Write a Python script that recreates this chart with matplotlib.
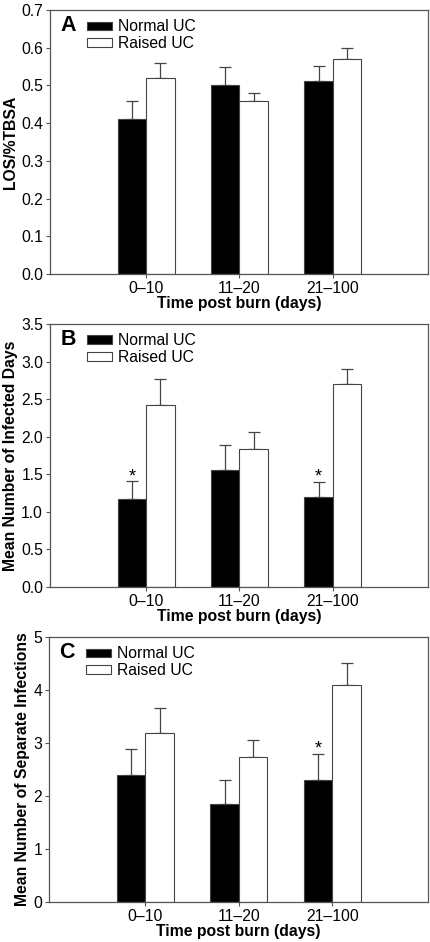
import numpy as np
import matplotlib
matplotlib.use('Agg')
import matplotlib.pyplot as plt

plt.rcParams['font.family'] = ['Liberation Sans', 'DejaVu Sans']

groups = ['0\u201310', '11\u201320', '21\u2013100']
series = ['Normal UC', 'Raised UC']

# panel A - LOS/%TBSA
los_normal = [0.41, 0.50, 0.513]
los_normal_err = [0.05, 0.05, 0.039]
los_raised = [0.52, 0.46, 0.57]
los_raised_err = [0.04, 0.02, 0.03]

# panel B - infected days
days_normal = [1.17, 1.55, 1.20]
days_normal_err = [0.24, 0.34, 0.20]
days_raised = [2.42, 1.84, 2.70]
days_raised_err = [0.35, 0.22, 0.20]

# panel C - separate infections
inf_normal = [2.39, 1.85, 2.30]
inf_normal_err = [0.50, 0.46, 0.50]
inf_raised = [3.19, 2.74, 4.10]
inf_raised_err = [0.47, 0.32, 0.40]

stars_b = [True, False, True]
stars_c = [False, False, True]

panels = [
    ('A', 'LOS/%TBSA', los_normal, los_normal_err, los_raised, los_raised_err,
     [False, False, False], (0, 0.7), np.arange(0, 0.71, 0.1), '%.1f'),
    ('B', 'Mean Number of Infected Days', days_normal, days_normal_err, days_raised, days_raised_err,
     stars_b, (0, 3.5), np.arange(0, 3.51, 0.5), '%.1f'),
    ('C', 'Mean Number of Separate Infections', inf_normal, inf_normal_err, inf_raised, inf_raised_err,
     stars_c, (0, 5), np.arange(0, 6, 1), '%d'),
]

fig = plt.figure(figsize=(4.3, 9.42), dpi=100)
rects = [[0.1163, 0.7091, 0.879, 0.2803],
         [0.1163, 0.3769, 0.879, 0.2792],
         [0.1140, 0.0425, 0.881, 0.2813]]

edge = '#444444'
spine_c = '#555555'
w = 0.305
x = np.arange(len(groups))
fs = 11.3

for rect, (letter, ylabel, vn, en, vr, er, stars, ylim, yticks, fmt) in zip(rects, panels):
    ax = fig.add_axes(rect)
    ax.bar(x - w / 2, vn, w, color='black', edgecolor=edge, linewidth=0.8, label=series[0], zorder=2)
    ax.bar(x + w / 2, vr, w, color='white', edgecolor=edge, linewidth=0.8, label=series[1], zorder=2)
    # upper error bars only
    ax.errorbar(x - w / 2, vn, yerr=[np.zeros(3), en], fmt='none', ecolor=edge,
                elinewidth=0.9, capsize=4, capthick=0.9, zorder=1)
    ax.errorbar(x + w / 2, vr, yerr=[np.zeros(3), er], fmt='none', ecolor=edge,
                elinewidth=0.9, capsize=4, capthick=0.9, zorder=1)
    for i in range(len(groups)):
        if stars[i]:
            ax.text(x[i] - w / 2, vn[i] + en[i], '*', ha='center', va='baseline', fontsize=13)

    ax.set_xlim(-1.03, 3.02)
    ax.set_ylim(*ylim)
    ax.set_yticks(yticks)
    ax.set_yticklabels([fmt % t for t in yticks])
    ax.set_xticks(x)
    ax.set_xticklabels(groups)
    ax.tick_params(axis='both', direction='out', length=3, width=0.8, color=spine_c,
                   labelsize=fs, pad=2)
    for s in ax.spines.values():
        s.set_color(spine_c)
        s.set_linewidth(0.9)
    ax.set_xlabel('Time post burn (days)', fontsize=fs, fontweight='bold', labelpad=0)
    ax.set_ylabel(ylabel, fontsize=fs, fontweight='bold', labelpad=2)

    ax.text(0.048, 0.94, letter, transform=ax.transAxes, ha='center', va='center',
            fontsize=15.5, fontweight='bold')
    ax.legend(loc='upper left', bbox_to_anchor=(0.098, 0.965), frameon=False, fontsize=fs,
              handlelength=1.6, handleheight=0.42, handletextpad=0.35, labelspacing=0.12,
              borderpad=0, borderaxespad=0)

fig.savefig('out.png', dpi=100)
